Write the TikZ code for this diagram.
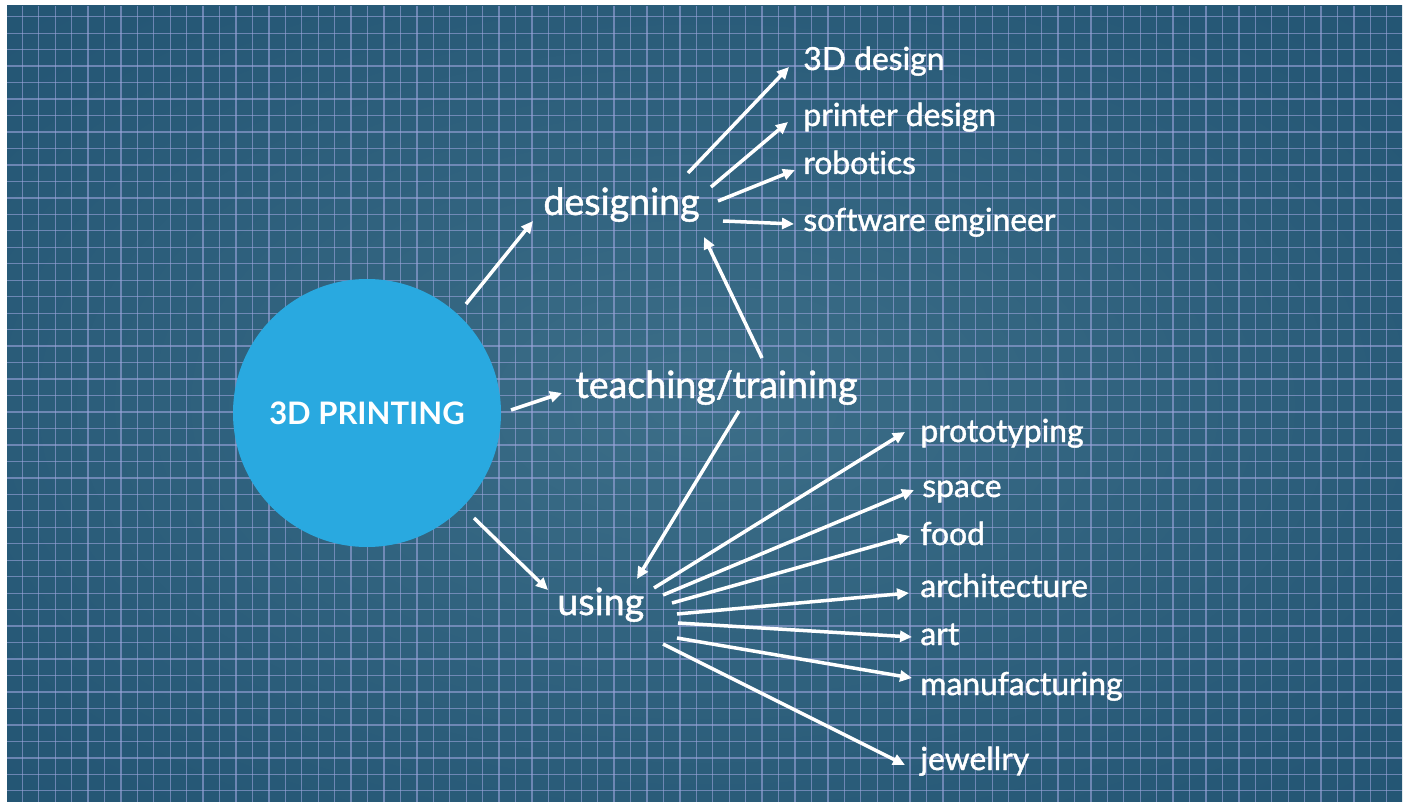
\documentclass[tikz,border=0pt]{standalone}
\usepackage{fontspec}
\setmainfont{Lato}[Ligatures={NoCommon}]
\newfontfamily\medfont{Lato}[FakeBold=1.3, Ligatures={NoCommon}]
\usetikzlibrary{arrows.meta}
\definecolor{bgin}{RGB}{60,110,136}
\definecolor{bgmid}{RGB}{38,88,118}
\definecolor{bgout}{RGB}{21,68,102}
\definecolor{gridc}{RGB}{155,165,220}
\definecolor{hubc}{RGB}{41,169,224}
\pgfdeclareradialshading{bgshade}{\pgfpoint{0bp}{0bp}}{color(0bp)=(bgin); color(30bp)=(bgmid); color(72bp)=(bgout)}
\tikzset{
  arr/.style={white, line width=1.75pt, -{Triangle[length=6pt,width=5.5pt]}},
  mainlbl/.style={anchor=base west, inner sep=0pt, text=white, font=\medfont\fontsize{18.8}{22}\selectfont},
  leaf/.style={anchor=base west, inner sep=0pt, text=white, font=\medfont\fontsize{15.9}{18}\selectfont},
  hubstyle/.style={circle, fill=hubc, minimum size=134pt, inner sep=0pt, text=white, font=\fontsize{15.5}{18}\selectfont\bfseries},
  gridline/.style={draw=gridc, opacity=0.6, line width=0.65pt}
}
\begin{document}
\begin{tikzpicture}[x=0.5pt,y=-0.5pt]
\useasboundingbox (0,0) rectangle (1407,802);
\fill[white] (0,0) rectangle (1407,802);
\shade[shading=bgshade] (7,6) rectangle (1402,802);
\begin{scope}
\clip (7,6) rectangle (1402,802);
\foreach \k in {0,...,83} {
  \draw[gridline] ({22.3+16.44*\k},6) -- ({22.3+16.44*\k},802);
}
\foreach \k in {0,...,47} {
  \draw[gridline] (7,{16.7+16.47*\k}) -- (1402,{16.7+16.47*\k});
}
\end{scope}

\node[hubstyle] (hub) at (367,413) {3D PRINTING};

\node[mainlbl] (des) at (543,215) {designing};
\node[mainlbl] (tea) at (575,398) {teaching/training};
\node[mainlbl] (usi) at (557,615) {using};

\node[leaf] (l3d) at (803,70) {3D design};
\node[leaf] (lpr) at (803,126) {printer design};
\node[leaf] (lro) at (803,174) {robotics};
\node[leaf] (lso) at (803,231) {software engineer};

\node[leaf] (lpt) at (920,442) {prototyping};
\node[leaf] (lsp) at (922,497) {space};
\node[leaf] (lfo) at (920,545) {food};
\node[leaf] (lar) at (920,597) {architecture};
\node[leaf] (lart) at (920,645) {art};
\node[leaf] (lma) at (920,695) {manufacturing};
\node[leaf] (lje) at (920,770) {jewellry};

\draw[arr] ([shift={(99,-109)}]hub.center) -- ([shift={(-10,6)}]des.base west);
\draw[arr] ([shift={(144,-3)}]hub.center) -- ([shift={(-13,-5)}]tea.base west);
\draw[arr] ([shift={(107,105)}]hub.center) -- ([shift={(-9,-25)}]usi.base west);
\draw[arr] ([shift={(187,-40)}]tea.base west) -- ([shift={(161,22)}]des.base west);
\draw[arr] ([shift={(164,13)}]tea.base west) -- ([shift={(80,-36)}]usi.base west);

\draw[arr] ([shift={(145,-42)}]des.base west) -- ([shift={(-14,-3)}]l3d.base west);
\draw[arr] ([shift={(168,-28)}]des.base west) -- ([shift={(-15,-4)}]lpr.base west);
\draw[arr] ([shift={(175,-14)}]des.base west) -- ([shift={(-8,-4)}]lro.base west);
\draw[arr] ([shift={(180,6)}]des.base west) -- ([shift={(-9,-7)}]lso.base west);

\draw[arr] ([shift={(97,-27)}]usi.base west) -- ([shift={(-15,-10)}]lpt.base west);
\draw[arr] ([shift={(106,-20)}]usi.base west) -- ([shift={(-8,-7)}]lsp.base west);
\draw[arr] ([shift={(115,-12)}]usi.base west) -- ([shift={(-10,-9)}]lfo.base west);
\draw[arr] ([shift={(120,-1)}]usi.base west) -- ([shift={(-11,-4)}]lar.base west);
\draw[arr] ([shift={(121,8)}]usi.base west) -- ([shift={(-8,-8)}]lart.base west);
\draw[arr] ([shift={(120,23)}]usi.base west) -- ([shift={(-8,-17)}]lma.base west);
\draw[arr] ([shift={(106,29)}]usi.base west) -- ([shift={(-15,-5)}]lje.base west);
\end{tikzpicture}
\end{document}
